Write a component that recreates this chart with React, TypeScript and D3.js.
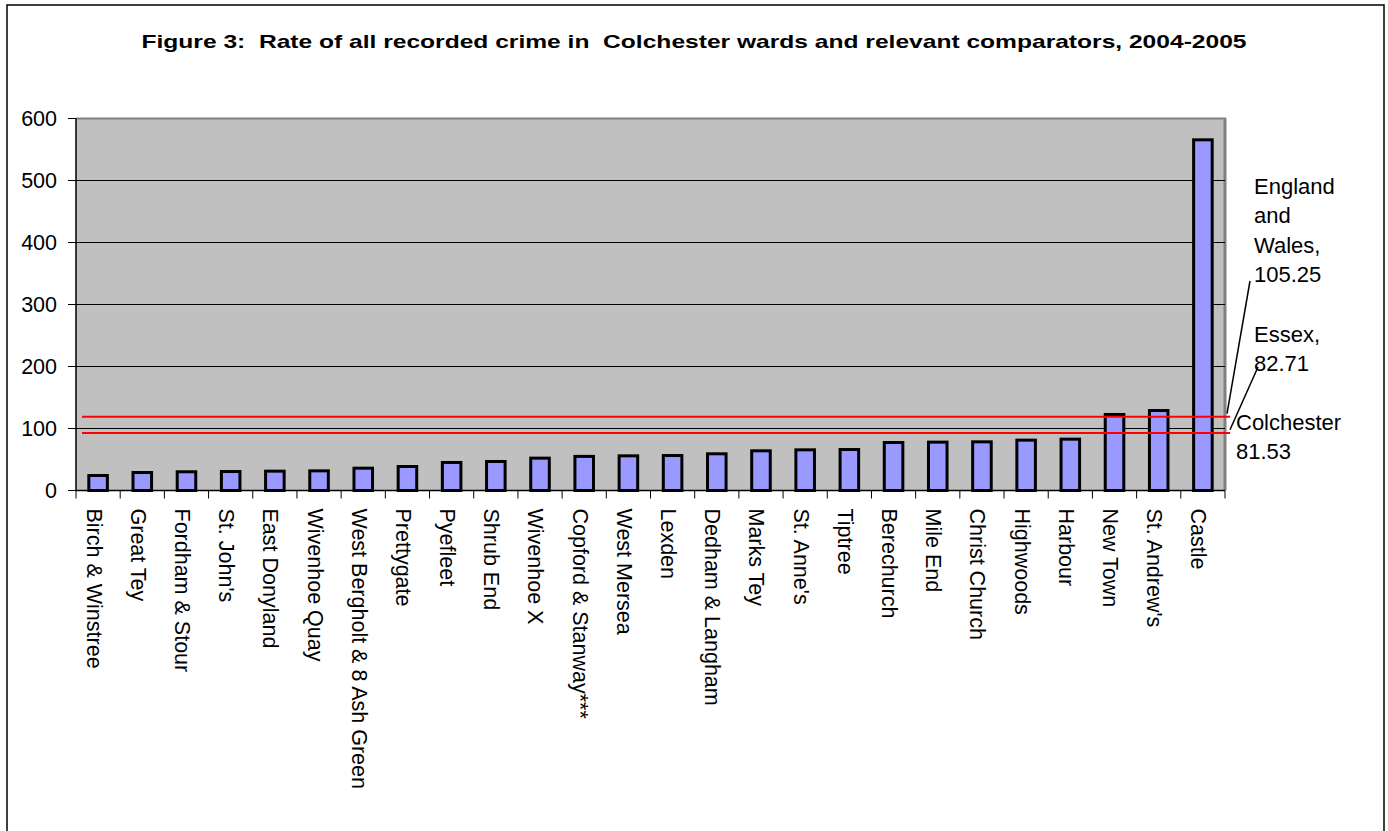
import React from "react";
import * as d3 from "d3";

const categories = [
  "Birch & Winstree", "Great Tey", "Fordham & Stour", "St. John's", "East Donyland",
  "Wivenhoe Quay", "West Bergholt & 8 Ash Green", "Prettygate", "Pyefleet", "Shrub End",
  "Wivenhoe X", "Copford & Stanway***", "West Mersea", "Lexden", "Dedham & Langham",
  "Marks Tey", "St. Anne's", "Tiptree", "Berechurch", "Mile End", "Christ Church",
  "Highwoods", "Harbour", "New Town", "St. Andrew's", "Castle",
];
const crimeRates = [
  24.2, 29.0, 30.2, 30.6, 31.2, 31.7, 36.0, 38.7, 45.2, 46.8, 52.2, 55.0, 55.9,
  56.4, 59.2, 64.0, 65.6, 66.1, 77.4, 78.0, 78.5, 81.2, 82.8, 122.6, 129.0, 565.6,
];
const yTicks = [0, 100, 200, 300, 400, 500, 600];
const refLineValues = [119, 93.1, 92.3];
const refLabels = [
  ["England", "and", "Wales,", "105.25"],
  ["Essex,", "82.71"],
  ["Colchester", "81.53"],
];
const title = "Figure 3:  Rate of all recorded crime in  Colchester wards and relevant comparators, 2004-2005";

const W = 1388;
const H = 831;
const plot = { left: 76, right: 1225, top: 118.5, bottom: 490.5 };
const FONT = "Arial, 'Liberation Sans', Helvetica, sans-serif";

export default function App() {
  const x = d3
    .scaleBand<string>()
    .domain(categories)
    .range([plot.left, plot.right])
    .paddingInner(0.58)
    .paddingOuter(0.29);
  const band = d3.scaleBand<string>().domain(categories).range([plot.left, plot.right]);
  const y = d3.scaleLinear().domain([0, 600]).range([plot.bottom, plot.top]);

  const lineX0 = plot.left + 6;
  const lineX1 = plot.right + 5;

  return (
    <svg
      width={W}
      height={H}
      style={{ position: "absolute", left: 0, top: 0, background: "#fff" }}
      fontFamily={FONT}
    >
      <rect x={7} y={5} width={1377} height={840} fill="#fff" stroke="#000" strokeWidth={1.5} />
      <text
        x={694}
        y={48}
        textAnchor="middle"
        fontWeight="bold"
        fontSize={19}
        textLength={1105}
        lengthAdjust="spacingAndGlyphs"
        style={{ whiteSpace: "pre" }}
      >
        {title}
      </text>

      {/* plot area */}
      <rect
        x={plot.left}
        y={plot.top}
        width={plot.right - plot.left}
        height={plot.bottom - plot.top}
        fill="#c0c0c0"
      />
      <line x1={plot.left} x2={plot.right + 1} y1={plot.top} y2={plot.top} stroke="#808080" strokeWidth={2} />
      <line x1={plot.right} x2={plot.right} y1={plot.top} y2={plot.bottom} stroke="#808080" strokeWidth={3} />

      {/* gridlines */}
      {yTicks
        .filter((t) => t > 0 && t < 600)
        .map((t) => (
          <line key={t} x1={plot.left} x2={plot.right} y1={y(t)} y2={y(t)} stroke="#000" strokeWidth={1} />
        ))}

      {/* y axis */}
      <line x1={plot.left} x2={plot.left} y1={plot.top} y2={plot.bottom} stroke="#000" strokeWidth={1.5} />
      {yTicks.map((t) => (
        <g key={t}>
          <line x1={plot.left - 8} x2={plot.left} y1={y(t)} y2={y(t)} stroke="#000" strokeWidth={1} />
          <text x={57} y={y(t)} dy="0.36em" textAnchor="end" fontSize={21.5}>
            {t}
          </text>
        </g>
      ))}

      {/* bars */}
      {categories.map((c, i) => (
        <rect
          key={c}
          x={x(c)}
          y={y(crimeRates[i])}
          width={x.bandwidth()}
          height={y(0) - y(crimeRates[i])}
          fill="#9999ff"
          stroke="#000"
          strokeWidth={3}
        />
      ))}

      {/* x axis */}
      <line x1={plot.left} x2={plot.right} y1={plot.bottom} y2={plot.bottom} stroke="#000" strokeWidth={1.5} />
      {[...categories.map((c) => band(c) as number), plot.right].map((bx, i) => (
        <line key={i} x1={bx} x2={bx} y1={plot.bottom} y2={plot.bottom + 8} stroke="#000" strokeWidth={1} />
      ))}
      {categories.map((c) => {
        const cx = (band(c) as number) + band.bandwidth() / 2 - 4;
        return (
          <text
            key={c}
            transform={`translate(${cx},${plot.bottom + 18}) rotate(90)`}
            dy="0.35em"
            fontSize={21.5}
          >
            {c}
          </text>
        );
      })}

      {/* reference lines */}
      {refLineValues.map((v, i) => (
        <line key={i} x1={lineX0} x2={lineX1} y1={y(v)} y2={y(v)} stroke="#ff0000" strokeWidth={i === 0 ? 2 : 1.5} />
      ))}

      {/* leader lines */}
      <line x1={1250} y1={281} x2={plot.right + 2} y2={y(refLineValues[0]) - 3} stroke="#000" strokeWidth={1.5} />
      <line x1={1258} y1={367} x2={plot.right + 5} y2={y(refLineValues[1]) - 3} stroke="#000" strokeWidth={1.5} />

      {/* annotations */}
      {refLabels[0].map((s, i) => (
        <text key={s} x={1254} y={194 + i * 29.3} fontSize={22}>
          {s}
        </text>
      ))}
      {refLabels[1].map((s, i) => (
        <text key={s} x={1254} y={342 + i * 29} fontSize={22}>
          {s}
        </text>
      ))}
      {refLabels[2].map((s, i) => (
        <text key={s} x={1236} y={429.5 + i * 29} fontSize={22}>
          {s}
        </text>
      ))}
    </svg>
  );
}
